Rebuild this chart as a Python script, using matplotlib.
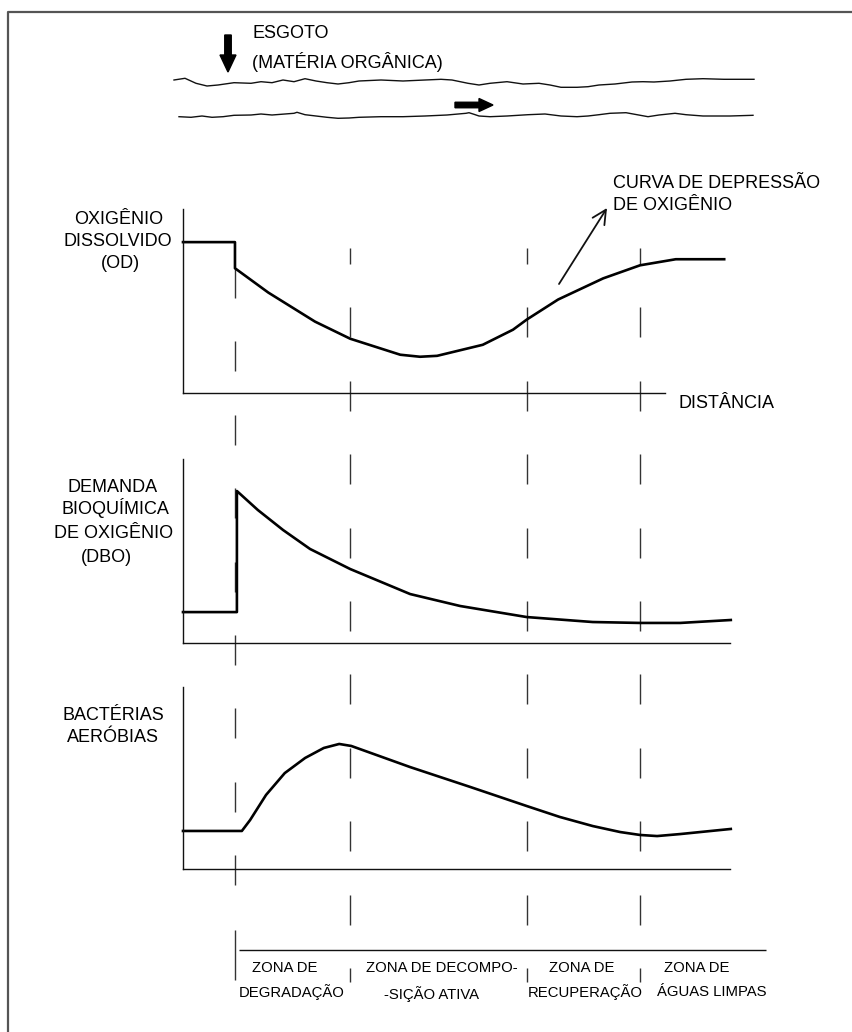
import numpy as np
import matplotlib.pyplot as plt
from matplotlib.transforms import blended_transform_factory

plt.rcParams['font.family'] = ['Liberation Sans', 'DejaVu Sans']

# distance along the river (0 = left axis of panels, 100 = right end)
zone_bounds = [9.45, 30.4, 62.5, 83.1]

# oxigenio dissolvido (relative units)
od_x = [0, 9.45, 9.45, 15.5, 24.0, 30.4, 39.5, 43.1, 46.2, 54.5, 60.0, 62.5,
        68.2, 76.4, 83.1, 89.6, 98.4]
od_y = [82.0, 82.0, 67.8, 54.6, 38.8, 29.5, 20.8, 19.7, 20.2, 26.2, 34.4, 39.9,
        50.8, 62.3, 69.4, 72.7, 72.7]

# DBO
dbo_x = [0, 9.8, 9.8, 13.6, 18.2, 23.1, 30.4, 41.3, 50.4, 62.5, 74.5, 83.1, 90.4, 99.6]
dbo_y = [16.8, 16.8, 82.6, 72.3, 61.4, 51.1, 40.2, 26.6, 20.1, 14.1, 11.4, 10.9, 10.9, 12.5]

# bacterias aerobias
bact_x = [0, 10.7, 12.2, 15.1, 18.5, 22.2, 25.6, 28.4, 30.6, 41.3, 52.2, 62.5,
          68.5, 74.5, 79.5, 83.1, 86.2, 90.4, 99.6]
bact_y = [20.9, 20.9, 26.9, 40.7, 52.7, 61.0, 66.5, 68.7, 67.6, 56.0, 45.1, 34.6,
          28.6, 23.6, 20.3, 18.7, 18.1, 19.2, 22.0]

panel_labels = [
    ["OXIGÊNIO", "DISSOLVIDO", "(OD)"],
    ["DEMANDA", "BIOQUÍMICA", "DE OXIGÊNIO", "(DBO)"],
    ["BACTÉRIAS", "AERÓBIAS"],
]
zone_labels = [
    ("ZONA DE", "DEGRADAÇÃO"),
    ("ZONA DE DECOMPO-", "-SIÇÃO ATIVA"),
    ("ZONA DE", "RECUPERAÇÃO"),
    ("ZONA DE", "ÁGUAS LIMPAS"),
]

# river banks sketched at the top (pixel coords)
bank_top_x = [174, 185, 196, 207, 218, 234, 251, 261, 272, 283, 294, 305, 316, 327,
              338, 349, 359, 381, 403, 425, 441, 452, 468, 479, 490, 507, 523, 539,
              550, 561, 577, 588, 599, 615, 632, 643, 654, 670, 686, 703, 724, 754]
bank_top_y = [80.0, 78.3, 83.3, 86.0, 85.0, 82.7, 83.3, 81.7, 82.7, 80.0, 81.7, 78.7,
              81.0, 82.7, 84.0, 82.7, 81.0, 80.0, 81.0, 80.0, 79.3, 80.0, 83.3, 85.0,
              83.3, 81.7, 84.0, 83.3, 85.0, 87.3, 87.3, 86.7, 85.0, 84.0, 82.0, 81.7,
              82.0, 81.0, 79.3, 78.7, 79.3, 79.3]
bank_bot_x = [179, 191, 202, 212, 223, 234, 251, 261, 272, 294, 297, 305, 316, 327,
              338, 349, 359, 381, 403, 425, 447, 466, 469, 474, 479, 490, 507, 528,
              545, 561, 577, 588, 599, 610, 626, 637, 648, 659, 675, 686, 703, 730, 753]
bank_bot_y = [116.7, 117.3, 116.0, 117.3, 116.7, 115.3, 115.0, 114.0, 115.0, 113.3,
              112.3, 114.7, 116.0, 117.3, 118.3, 118.0, 117.3, 116.7, 116.7, 116.0,
              115.0, 113.3, 112.7, 114.3, 116.0, 116.7, 116.0, 114.7, 114.0, 116.0,
              116.7, 116.0, 114.7, 113.3, 112.7, 114.7, 116.7, 115.0, 113.3, 114.7,
              116.0, 116.0, 115.3]

W, H = 852, 1032
fig = plt.figure(figsize=(W / 100, H / 100), dpi=100)
bg = fig.add_axes([0, 0, 1, 1])
bg.set_xlim(0, W)
bg.set_ylim(H, 0)
bg.axis('off')

ink = '#111111'
grey = '#333333'

# frame (only left and top edges fall inside the picture)
bg.plot([8, 8, W], [H, 12, 12], color='#555555', lw=1.6)

# river sketch
bg.plot(bank_top_x, bank_top_y, color=ink, lw=1.0)
bg.plot(bank_bot_x, bank_bot_y, color=ink, lw=1.0)
bg.arrow(228, 35, 0, 37, width=6.5, head_width=16, head_length=17,
         length_includes_head=True, color='black')
bg.arrow(455, 105, 38, 0, width=5.5, head_width=13, head_length=14,
         length_includes_head=True, color='black')
bg.text(252, 32 + 6.5, "ESGOTO", fontsize=13, va='baseline', ha='left')
bg.text(252, 62 + 6.5, "(MATÉRIA ORGÂNICA)", fontsize=13, va='baseline', ha='left')

# panels
px0, px1 = 183, 733
boxes = [(209, 393), (459, 643), (687, 869)]
series = [(od_x, od_y), (dbo_x, dbo_y), (bact_x, bact_y)]
axis_ends = [87.6, 99.5, 99.5]
axes = []
for (top, bot), (xs, ys), xend in zip(boxes, series, axis_ends):
    ax = fig.add_axes([px0 / W, 1 - bot / H, (px1 - px0) / W, (bot - top) / H])
    ax.set_xlim(0, 100)
    ax.set_ylim(0, 100)
    ax.patch.set_alpha(0)
    for s in ('top', 'right'):
        ax.spines[s].set_visible(False)
    for s in ('left', 'bottom'):
        ax.spines[s].set_color(ink)
        ax.spines[s].set_linewidth(1.0)
    ax.spines['bottom'].set_bounds(0, xend)
    ax.set_xticks([])
    ax.set_yticks([])
    ax.plot(xs, ys, color='black', lw=1.9, clip_on=False, solid_joinstyle='round')
    axes.append(ax)

# panel labels
label_pos = [
    [(119, 217), (118, 240), (120, 262)],
    [(113, 486), (115, 508), (114, 532), (106, 555)],
    [(113, 713), (113, 736)],
]
for lines, pos in zip(panel_labels, label_pos):
    for txt, (x, y) in zip(lines, pos):
        bg.text(x, y + 6.5, txt, fontsize=13, ha='center', va='baseline')

bg.text(679, 401 + 6.5, "DISTÂNCIA", fontsize=13, ha='left', va='baseline')
bg.text(613, 181 + 6.5, "CURVA DE DEPRESSÃO", fontsize=13, ha='left', va='baseline')
bg.text(613, 203 + 6.5, "DE OXIGÊNIO", fontsize=13, ha='left', va='baseline')
bg.annotate("", xy=(607, 208), xytext=(559, 284),
            arrowprops=dict(arrowstyle='->,head_length=0.5,head_width=0.25',
                            color=ink, lw=1.3, mutation_scale=20,
                            shrinkA=0, shrinkB=0))

# zone dividing lines (dashed, crossing all panels)
zone_tr = blended_transform_factory(axes[0].transData, bg.transData)
for i, zb in enumerate(zone_bounds):
    if i == 0:
        starts = np.arange(268, 880, 73.4)
        lo, hi = 268, 900
    else:
        starts = np.arange(234, 990, 73.4)
        lo, hi = 248, 982
    y0 = np.clip(starts, lo, hi)
    y1 = np.clip(starts + 30, lo, hi)
    bg.vlines([zb] * len(starts), y0, y1, transform=zone_tr, color=grey, lw=1.0)
bg.vlines([zone_bounds[0]], 930, 980, transform=zone_tr, color=grey, lw=1.0)

# zone axis and labels
bg.hlines(950, 239, 766, color=ink, lw=1.0)
zone_pos = [((285, 967), (292, 991)),
            ((442, 967), (431, 993)),
            ((582, 967), (585, 991)),
            ((697, 967), (712, 991))]
for (l1, l2), ((x1, y1), (x2, y2)) in zip(zone_labels, zone_pos):
    bg.text(x1, y1 + 5.5, l1, fontsize=10.7, ha='center', va='baseline')
    bg.text(x2, y2 + 5.5, l2, fontsize=10.7, ha='center', va='baseline')

fig.savefig("out.png", dpi=100, facecolor='white')
